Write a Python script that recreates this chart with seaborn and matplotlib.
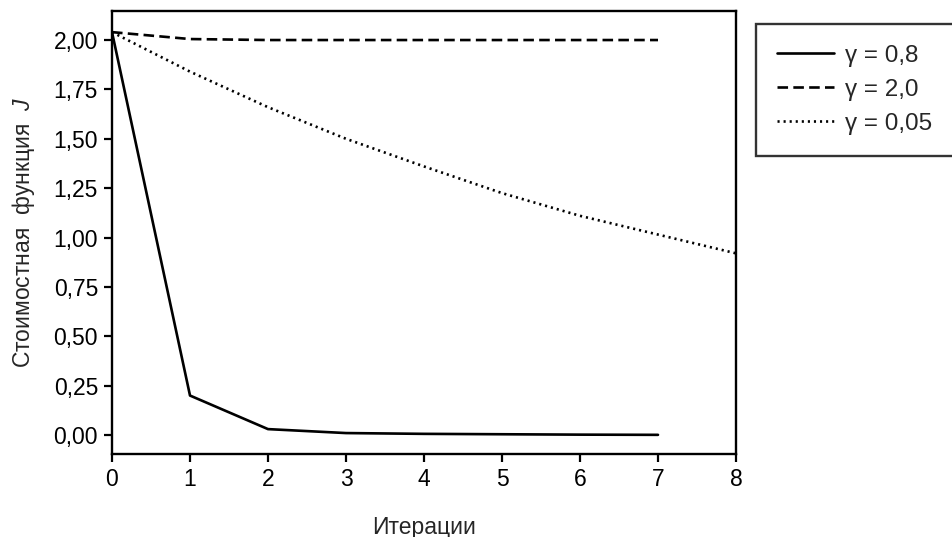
import matplotlib
matplotlib.use("Agg")
import matplotlib.pyplot as plt
from matplotlib import font_manager
import seaborn as sns
import pandas as pd

# ---- data ----
iterations_a = [0, 1, 2, 3, 4, 5, 6, 7]
cost_gamma_08 = [2.04, 0.20, 0.03, 0.01, 0.006, 0.004, 0.002, 0.001]
iterations_b = [0, 1, 2, 3, 4, 5, 6, 7]
cost_gamma_20 = [2.04, 2.005, 2.0, 2.0, 2.0, 2.0, 2.0, 2.0]
iterations_c = [0, 1, 2, 3, 4, 5, 6, 7, 8]
cost_gamma_005 = [2.04, 1.84, 1.66, 1.50, 1.36, 1.225, 1.11, 1.015, 0.92]
series_labels = ["γ = 0,8", "γ = 2,0", "γ = 0,05"]
x_ticks = [0, 1, 2, 3, 4, 5, 6, 7, 8]
y_ticks = [0.0, 0.25, 0.5, 0.75, 1.0, 1.25, 1.5, 1.75, 2.0]
x_label = "Итерации"
y_label = "Стоимостная  функция  $J$"

df = pd.concat([
    pd.DataFrame({"x": iterations_a, "y": cost_gamma_08, "s": series_labels[0]}),
    pd.DataFrame({"x": iterations_b, "y": cost_gamma_20, "s": series_labels[1]}),
    pd.DataFrame({"x": iterations_c, "y": cost_gamma_005, "s": series_labels[2]}),
], ignore_index=True)

sns.set_theme(style="ticks")
names = {f.name for f in font_manager.fontManager.ttflist}
fam = "Liberation Sans Narrow" if "Liberation Sans Narrow" in names else "Liberation Sans"
plt.rcParams["font.family"] = [fam, "DejaVu Sans"]
plt.rcParams["mathtext.fontset"] = "custom"
plt.rcParams["mathtext.it"] = fam + ":italic"
plt.rcParams["mathtext.rm"] = fam

fig = plt.figure(figsize=(9.52, 5.37), dpi=100)
ax = fig.add_axes([112 / 952, 1 - 454 / 537, (736 - 112) / 952, (454 - 11) / 537])

sns.lineplot(data=df, x="x", y="y", style="s", color="black", linewidth=1.9,
             dashes={series_labels[0]: "", series_labels[1]: (4, 2), series_labels[2]: (0.8, 1.5)},
             ax=ax, legend=True)

ax.set_xlim(0, 7.93)
ax.set_ylim(-0.096, 2.147)
ax.set_xticks(x_ticks)
ax.set_yticks(y_ticks)
ax.set_yticklabels([f"{v:.2f}".replace(".", ",") for v in y_ticks])
ax.set_xticklabels([str(v) for v in x_ticks])
ax.tick_params(axis="both", direction="out", length=6, width=1.6, labelsize=16.5, colors="black", pad=4)
for sp in ax.spines.values():
    sp.set_linewidth(1.7)
    sp.set_color("black")
ax.set_xlabel(x_label, fontsize=16.5, labelpad=18)
ax.set_ylabel(y_label, fontsize=16.5, labelpad=12)

leg = ax.legend(loc="upper left", bbox_to_anchor=(756 / 952, 1 - 142 / 537, 0.25, 118 / 537),
                bbox_transform=fig.transFigure, mode="expand", frameon=True, fancybox=False,
                fontsize=17.5, handlelength=2.35, handletextpad=0.45, borderpad=0.85, labelspacing=0.5,
                edgecolor="black", borderaxespad=0)
leg.get_frame().set_linewidth(1.7)
leg.set_title(None)

fig.savefig("out.png", dpi=100)
